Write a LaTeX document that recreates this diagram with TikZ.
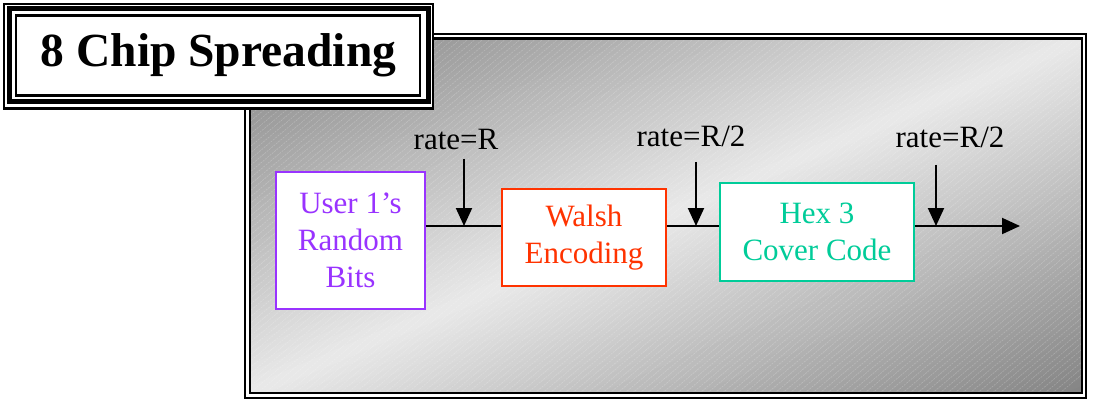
\documentclass[tikz,border=0pt]{standalone}
\usepackage{fontspec}
\setmainfont{Liberation Serif}
\usetikzlibrary{arrows.meta}
\definecolor{cpurple}{HTML}{9933FF}
\definecolor{cred}{HTML}{FF3300}
\definecolor{cteal}{HTML}{00CC99}
\definecolor{gdark}{HTML}{848484}
\definecolor{glight}{HTML}{E9E9E9}
\begin{document}
\begin{tikzpicture}[x=1pt,y=-1pt,
  block/.style={draw,line width=2pt,fill=white,inner sep=0pt,align=center,
    font=\fontsize{31}{37}\selectfont},
  ratelabel/.style={font=\fontsize{31}{37}\selectfont,anchor=base,inner sep=0pt},
  flow/.style={line width=2pt},
  tip/.style={-{Triangle[width=16pt,length=18pt]}, line width=2pt},
  hatch/.style={white, line width=0.6pt, opacity=0.22, dash pattern=on 2pt off 1pt},
]
\useasboundingbox (0,0) rectangle (1093,401);
% ---- panel ----
\fill[white] (245,34) rectangle (1086,398);
\begin{scope}
  \clip (250,38.5) rectangle (1082,393);
  \begin{scope}[shift={(250,38.5)}, x=832pt, y=-354.5pt]
    \foreach \i in {0,...,99}{
      \pgfmathsetmacro\ca{\i/50}
      \pgfmathsetmacro\cb{(\i+1.4)/50}
      \pgfmathsetmacro\f{100*(1-abs((\i+0.5)/50-1))}
      \fill[glight!\f!gdark] (\ca+1,-1) -- (\cb+1,-1) -- (-1,\cb+1) -- (-1,\ca+1) -- cycle;
    }
  \end{scope}
  \foreach \k in {0,...,165}{
    \draw[hatch] (-180+7.5*\k,395) -- ++(428,-360);
  }
\end{scope}
\draw[line width=2pt] (245,34) rectangle (1086,398);
\draw[line width=2.5pt] (250,38.5) rectangle (1082,393);
% ---- title ----
\fill[white] (4,4) rectangle (433,108.5);
\draw[line width=2.2pt] (4,4) rectangle (433,108.5);
\draw[line width=5pt] (9.5,9) rectangle (428,101.3);
\draw[line width=2.2pt] (16,15.5) rectangle (420,95.5);
\node[font=\fontsize{47.5}{50}\selectfont\bfseries, anchor=base, inner sep=0pt] (title) at (218.5,67) {8 Chip Spreading};
% ---- blocks ----
\node[block, draw=cpurple, text=cpurple, minimum width=149pt, minimum height=136pt] (user) at (350.5,240.5) {User 1’s\\Random\\Bits};
\node[block, draw=cred, text=cred, minimum width=164pt, minimum height=97pt] (walsh) at (584,237.5) {Walsh\\Encoding};
\node[block, draw=cteal, text=cteal, minimum width=194pt, minimum height=98pt] (hex) at (817,232) {Hex 3\\Cover Code};
% ---- connectors ----
\coordinate (j1) at (464,226);
\coordinate (j2) at (696,226);
\coordinate (j3) at (936,226);
\coordinate (out) at (1020,226);
\coordinate (a1) at (464,159);
\coordinate (a2) at (696,162);
\coordinate (a3) at (936,165);
\draw[flow] (user.east |- j1) -- (walsh.west |- j1);
\draw[flow] (walsh.east |- j2) -- (hex.west |- j2);
\draw[tip] (hex.east |- j3) -- (out);
\draw[tip] (a1) -- (j1);
\draw[tip] (a2) -- (j2);
\draw[tip] (a3) -- (j3);
% ---- rate labels ----
\node[ratelabel] (r1) at (456,150) {rate=R};
\node[ratelabel] (r2) at (691,147) {rate=R/2};
\node[ratelabel] (r3) at (950,148) {rate=R/2};
\end{tikzpicture}
\end{document}
